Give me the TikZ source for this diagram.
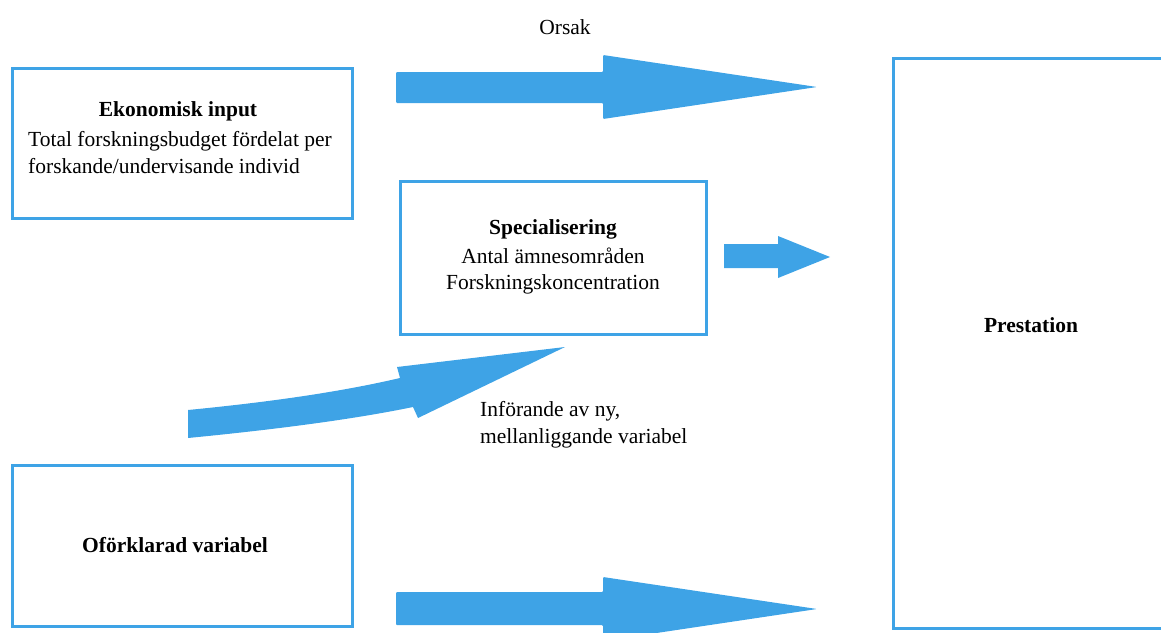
\documentclass[tikz,border=0pt]{standalone}
\usepackage{fontspec}
\setmainfont{Liberation Serif}
\definecolor{bl}{HTML}{3EA3E6}
\begin{document}
\begin{tikzpicture}[x=1pt,y=-1pt,
  box/.style={draw=bl,line width=3pt,fill=white},
  txt/.style={font=\fontsize{21.5}{27}\selectfont,inner sep=0pt},
  btxt/.style={font=\fontsize{21.5}{27}\selectfont\bfseries,inner sep=0pt},
  blk/.style={fill=bl,draw=none}]
\useasboundingbox (0,0) rectangle (1161,632);
\clip (0,0) rectangle (1161,632);
% boxes
\draw[box] (12,68) rectangle (352,218);
\coordinate (ek) at (182,143);
\draw[box] (400,181) rectangle (706,334);
\coordinate (sp) at (553,257);
\draw[box] (12,465) rectangle (352,626);
\coordinate (of) at (182,545);
\draw[box] (893,58) rectangle (1175,628);
\coordinate (pr) at (1027,325);
% texts
\node[btxt] (ekh) at (178,111) {Ekonomisk input};
\node[txt,anchor=base west] (ek1) at (28,146) {Total forskningsbudget fördelat per};
\node[txt,anchor=base west] (ek2) at (28,173) {forskande/undervisande individ};
\node[btxt] (sph) at (553,229) {Specialisering};
\node[txt] (sp1) at (553,256) {Antal ämnesområden};
\node[txt] (sp2) at (553,284) {Forskningskoncentration};
\node[btxt] (ofh) at (175,545) {Oförklarad variabel};
\node[btxt] (prh) at (1031,325) {Prestation};
\node[txt] (orsak) at (565,27) {Orsak};
\node[txt,align=left,anchor=north west] (inf) at (480,401) {Införande av ny,\\mellanliggande variabel};
% block arrows
\fill[blk,rounded corners=1pt] (396,72) -- (603,72) -- (603,55) -- (817,87) -- (603,119) -- (603,103) -- (396,103) -- cycle;
\fill[blk,rounded corners=1pt] (396,592) -- (603,592) -- (603,577) -- (817,609) -- (603,641) -- (603,625) -- (396,625) -- cycle;
\fill[blk] (724,244) -- (778,244) -- (778,236) -- (830,257) -- (778,278) -- (778,268) -- (724,268) -- cycle;
\fill[blk] (188,410) .. controls (270,402) and (340,392) .. (400,378)
  -- (397,367) -- (565,347) -- (418,418) -- (413,407)
  .. controls (350,420) and (270,430) .. (188,438) -- cycle;
\end{tikzpicture}
\end{document}
